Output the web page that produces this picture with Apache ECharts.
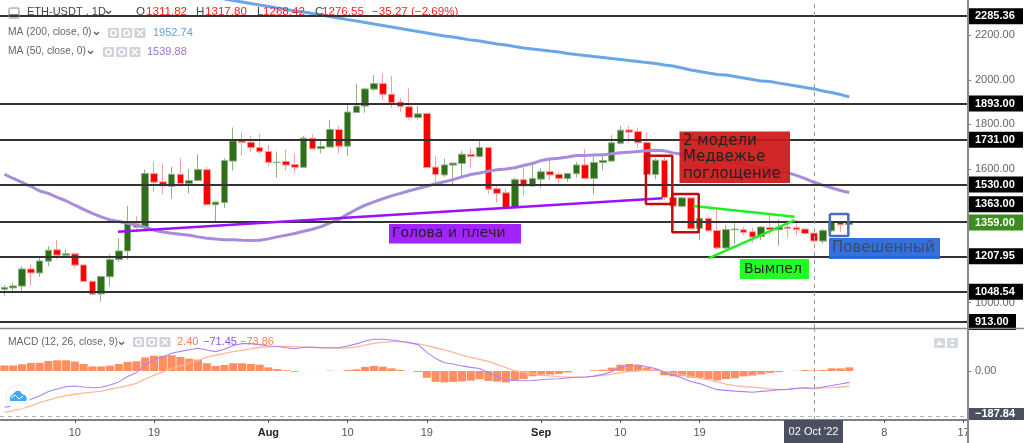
<!DOCTYPE html>
<html><head><meta charset="utf-8">
<style>html,body{margin:0;padding:0;background:#fff}#c{width:1024px;height:443px}</style>
<script src="https://cdn.jsdelivr.net/npm/echarts@6/dist/echarts.min.js"></script>
</head><body><div id="c"></div>
<script>
// [open, close, low, high] per day, 2 Jul 2022 onward
const ohlc = [
[1060,1068,1030,1078],[1066,1075,1041,1090],[1074,1151,1048,1163],[1151,1133,1078,1175],[1133,1187,1116,1202],
[1186,1235,1163,1253],[1237,1213,1195,1280],[1213,1219,1205,1238],[1219,1168,1153,1221],[1169,1095,1093,1171],
[1096,1038,1036,1098],[1039,1117,1006,1120],[1116,1193,1074,1216],[1193,1232,1183,1289],[1232,1358,1193,1433],
[1355,1337,1317,1388],[1337,1579,1328,1597],[1579,1540,1494,1633],[1542,1524,1487,1624],[1522,1576,1467,1609],
[1576,1534,1519,1647],[1534,1548,1489,1599],[1548,1597,1546,1665],[1597,1439,1437,1609],[1439,1451,1362,1452],
[1449,1638,1424,1647],[1635,1726,1592,1786],[1726,1719,1659,1767],[1720,1695,1677,1747],[1696,1677,1667,1756],
[1678,1629,1610,1707],[1628,1630,1560,1678],[1634,1617,1592,1687],[1620,1607,1583,1667],[1607,1738,1605,1747],
[1738,1690,1687,1755],[1691,1701,1670,1732],[1698,1777,1698,1821],[1777,1702,1670,1792],[1702,1855,1659,1886],
[1853,1882,1853,1983],[1882,1959,1852,1965],[1958,1983,1950,2021],[1983,1935,1908,2028],[1935,1897,1874,2016],
[1900,1879,1856,1917],[1879,1831,1822,1961],[1831,1847,1823,1882],[1849,1606,1605,1851],[1608,1575,1527,1657],
[1573,1618,1564,1647],[1617,1626,1531,1628],[1624,1666,1564,1680],[1665,1656,1606,1696],[1656,1696,1651,1726],
[1696,1509,1487,1698],[1511,1490,1448,1522],[1493,1425,1425,1512],[1425,1552,1425,1561],[1552,1523,1478,1606],
[1523,1557,1520,1617],[1554,1587,1515,1602],[1588,1573,1549,1651],[1576,1557,1534,1584],[1557,1579,1542,1582],
[1578,1618,1561,1632],[1618,1557,1554,1690],[1557,1629,1487,1654],[1629,1638,1594,1662],[1635,1717,1632,1751],
[1715,1774,1710,1792],[1775,1765,1721,1792],[1768,1717,1695,1786],[1718,1575,1572,1763],[1575,1639,1554,1647],
[1639,1472,1460,1654],[1472,1433,1430,1474],[1432,1470,1427,1475],[1470,1331,1328,1470],[1333,1378,1280,1385],
[1378,1322,1318,1385],[1324,1245,1239,1418],[1245,1328,1240,1348],[1327,1330,1262,1361],[1327,1315,1303,1340],
[1318,1294,1268,1337],[1297,1339,1280,1343],[1337,1327,1303,1400],[1327,1339,1255,1373],[1339,1333,1289,1370],
[1336,1327,1303,1373],[1330,1310,1306,1337],[1311.82,1276.55,1268.42,1317.8],[1276,1324,1265,1331],[1322,1363,1319,1366],
[1361,1349,1318,1361],[1351,1361,1346,1362]
];
const ma200 = [null,null,null,null,null,null,null,null,null,null,null,null,null,null,null,null,null,null,null,null,null,null,null,null,null,
2362,2356,2349,2342,2336,2329,2322,2315,2309,2304,2297,2291,2284,2277,2270,2264,2257,2250,2244,2237,2230,2223,2217,2210,2203,2196,2192,2185,2178,2174,2167,2161,2156,2149,2143,2138,2134,2129,2125,2118,2113,2109,2104,2100,2095,2091,2086,2082,2077,2073,2066,2062,2053,2044,2037,2030,2024,2021,2015,2008,2001,1994,1992,1985,1979,1972,1965,1959,1950,1943,1934,1923];
const ma50 = [1576,1557,1540,1522,1501,1490,1472,1457,1437,1418,1400,1385,1371,1364,1356,1347,1338,1325,1317,1311,1307,1302,1295,1289,1285,1282,1282,1280,1279,1280,1286,1295,1302,1310,1320,1329,1341,1358,1373,
1397,1418,1437,1452,1466,1479,1490,1502,1512,1522,1534,1542,1552,1564,1575,1582,1590,1596,1600,1605,1615,1624,1638,1644,1648,1653,1660,1660,1662,1663,1668,1672,1675,1678,1681,1684,1681,1672,
1666,1660,1654,1648,1642,1635,1627,1620,1613,1605,1598,1590,1583,1571,1556,1540,1527,1515,1503,1494];
const macdHist = [23,23,28,33,34,41,44,44,39,29,19,19,22,29,37,40,56,63,63,65,58,51,47,32,21,25,32,32,29,26,15,8,3,-3,-0.3,0.3,-0.2,1.4,0.2,4,7,17,21,18,11,4,-0.5,-4,-28,-45,-47,-45,-43,-40,-34,-41,-44,-47,-40,-33,-22,-19,-15,-12,-6,-0.3,0.3,3,5.5,14,26,29,23,14,5.5,-18,-22,-22,-28,-28,-33,-39,-33,-30,-22,-19,-14,-8,-4,-0.3,1,4,2.4,4,11,11,15];
const macdLine = [-150,-144,-134,-117,-103,-85,-74,-65,-62,-66,-69,-67,-58,-45,-23,-7,25,45,59,73,81,88,94,87,80,90,105,113,113,109,103,101,96,92,98,98,96,96,96,103,112,124,131,131,128,123,117,109,77,52,34,29,21,15,10,-7,-23,-37,-39,-40,-39,-36,-33,-32,-29,-26,-25,-21,-14,-3,15,23,25,17,10,-6,-16,-29,-43,-52,-65,-77,-80,-83,-85,-88,-84,-81,-77,-76,-71.5,-69,-71.45,-66,-60,-54,-47];
const macdSignal = [-172,-164,-155,-144,-131,-120,-110,-102,-96,-91,-87,-83,-76,-69,-60,-51,-33,-18,-4,10,21,32,43,57,65,73,80,85,91,98,100,102,102,100,98,98,96,95,95,96,100,107,114,118,121,121,116,112,105,96,87,77,66,56,48,40,26,14,1,-5,-12,-16,-20,-23,-25,-25,-25,-22,-18,-14,-7,-3,0,4,6,-3,-10,-16,-23,-30,-37,-45,-54,-60,-65,-67,-70,-74,-77,-76,-73,-70,-73.86,-70,-69,-66,-63];
const levels = [2285.36,1893,1731,1530,1363,1207.95,1048.54,913];
const lastClose = 1359;
const crossIndex = 92, crossValue = -187.84;
const slotCount = 110;
const categories = Array.from({length:slotCount},(_,i)=>i);
const tickLabels = {8:'10',17:'19',30:'Aug',39:'10',48:'19',61:'Sep',70:'10',79:'19',100:'8',109:'17'};
const priceTicks = [2200,2000,1800,1600,1000];
const neckline = [[12.9,1318],[74.8,1468]];
const pennantTop = [[78.3,1434],[89.8,1385]];
const pennantBottom = [[80,1198],[89.8,1370]];
const box1 = [[72.9,1659],[75.9,1659],[75.9,1443],[72.9,1443],[72.9,1659]];
const box2 = [[75.9,1487],[78.9,1487],[78.9,1316],[75.9,1316],[75.9,1487]];
const box3 = [[93.8,1398],[95.9,1398],[95.9,1299],[93.8,1299],[93.8,1398]];

const FONT='"Liberation Sans",Arial,sans-serif';
function txt(x,y,s,fill,size,extra){return Object.assign({type:'text',z:101,x:x,y:y,style:{text:s,fill:fill,font:(size||11)+'px '+FONT,textVerticalAlign:'middle'}},extra||{});}
function iconSet(x,y){
  const out=[];
  for(let i=0;i<3;i++){
    const cx=x+i*13.2;
    out.push({type:'rect',z:101,shape:{x:cx,y:y,width:11,height:10,r:1},style:{fill:'#cfd2d8'}});
    if(i<2) out.push({type:'ring',z:102,shape:{cx:cx+5.5,cy:y+5,r:3.5,r0:2},style:{fill:'#fff'}});
    else {
      out.push({type:'line',z:102,shape:{x1:cx+2.5,y1:y+2,x2:cx+8.5,y2:y+8},style:{stroke:'#fff',lineWidth:1.5}});
      out.push({type:'line',z:102,shape:{x1:cx+8.5,y1:y+2,x2:cx+2.5,y2:y+8},style:{stroke:'#fff',lineWidth:1.5}});
    }
  }
  return out;
}
function caret(x,y,c){return {type:'polyline',z:101,shape:{points:[[x,y],[x+2.5,y+2.5],[x+5,y]]},style:{stroke:c||'#555',fill:null,lineWidth:1.2}};}
function note(x,y,w,h,fill,lines,size,tcolor,tx){
  const els=[{type:'rect',z:90,shape:{x:x,y:y,width:w,height:h},style:{fill:fill}}];
  lines.forEach((l,i)=>els.push({type:'text',z:91,x:tx,y:y+h/2+(i-(lines.length-1)/2)*16.5,style:{text:l,fill:tcolor,font:size+'px "DejaVu Sans"',textVerticalAlign:'middle'}}));
  return els;
}
const graphics=[].concat(
  [{type:'rect',z:101,shape:{x:9,y:8,width:10,height:10,r:1},style:{fill:'none',stroke:'#888',lineWidth:1}},
   {type:'line',z:101,shape:{x1:9,y1:14.5,x2:19,y2:14.5},style:{stroke:'#888',lineWidth:1}},
   txt(27,12,'ETH-USDT , 1D','#444',11), caret(106,11,'#444'),
   txt(136,12,'O','#444',11.6), txt(146,12,'1311.82','#f22',11.6),
   txt(196,12,'H','#444',11.6), txt(205,12,'1317.80','#f22',11.6),
   txt(257,12,'L','#444',11.6), txt(263,12,'1268.42','#f22',11.6),
   txt(315,12,'C','#444',11.6), txt(322,12,'1276.55','#f22',11.6),
   txt(372,12,'\u221235.27 (\u22122.69%)','#f22',11.6),
   txt(8,32,'MA (200, close, 0)','#666',10.3), caret(94,32),
   txt(153,33,'1952.74','#5c9fe6',11),
   txt(8,51,'MA (50, close, 0)','#666',10.3), caret(88,51),
   txt(147,52,'1539.88','#9a72d8',11),
   txt(8,342,'MACD (12, 26, close, 9)','#666',10.3), caret(119,342),
   txt(177,342,'2.40','#ff7f50',11), txt(203,342,'\u221271.45','#8a55f0',11), txt(240,342,'\u221273.86','#ff7f50',11)],
  iconSet(108,28), iconSet(103,47), iconSet(133,337),
  note(679.5,131.5,110.5,51.5,'rgba(204,24,24,0.93)',['2 модели','Медвежье','поглощение'],15,'#222',683),
  note(389,224,132,19.5,'rgba(156,24,255,0.95)',['Голова и плечи'],14,'#222',392),
  note(740,259,69,20,'#22ff22',['Вымпел'],14,'#222',744),
  note(829,238,111,21,'rgba(40,105,220,0.95)',['Повешенный'],15,'#3b4a68',832),
  [{type:'circle',z:101,shape:{cx:18,cy:397,r:12},style:{fill:'#fff',stroke:'#eee',lineWidth:1}},
   {type:'polygon',z:102,shape:{points:[[10,401],[10,397],[13,394],[16,391],[20,391],[22,394],[25,395],[27,398],[26,401]]},style:{fill:'#3fa9f5'}},
   {type:'polyline',z:103,shape:{points:[[11,398],[15,395],[19,399],[23,396]]},style:{stroke:'#fff',fill:null,lineWidth:1}},
   {type:'line',z:20,shape:{x1:0,y1:328.5,x2:1024,y2:328.5},style:{stroke:'#8a8a8a',lineWidth:1.5}},
   {type:'rect',z:95,shape:{x:969,y:421,width:55,height:22},style:{fill:'#fff'}},
   {type:'line',z:96,shape:{x1:968,y1:0,x2:968,y2:443},style:{stroke:'#8a8a8a',lineWidth:2}},
   {type:'rect',z:97,shape:{x:784,y:420,width:59,height:23},style:{fill:'#4a5060'}},
   {type:'text',z:98,x:813.5,y:431.5,style:{text:"02 Oct '22",fill:'#fff',font:'11px '+FONT,textAlign:'center',textVerticalAlign:'middle'}},
   {type:'rect',z:97,shape:{x:934,y:338,width:11,height:10,r:1},style:{fill:'#d5d8de'}},
   {type:'rect',z:97,shape:{x:947,y:338,width:11,height:10,r:1},style:{fill:'#d5d8de'}},
   {type:'polygon',z:98,shape:{points:[[936,345],[939.5,341],[943,345]]},style:{fill:'#fff'}},
   {type:'polygon',z:98,shape:{points:[[950,342],[952.5,339.5],[955,342]]},style:{fill:'#fff'}},
   {type:'polygon',z:98,shape:{points:[[950,344],[952.5,346.5],[955,344]]},style:{fill:'#fff'}}]
);
const tagLabel=(bg,w,offset)=>({show:true,position:'end',distance:0,formatter:p=>p.value.toFixed(2),backgroundColor:bg,color:'#fff',fontFamily:FONT,fontSize:11,fontWeight:'bold',padding:[3,0,2,7],width:w,offset:offset||[0,0],align:'left',verticalAlign:'middle'});
const levelItems=levels.map(v=>({yAxis:v,label:tagLabel('#000',v===913?41:48,v===1363?[0,-17.5]:[0,0])}));
const lastItem={yAxis:lastClose,lineStyle:{color:'rgba(0,0,0,0)',width:1},label:tagLabel('#3d8c21',48)};
function overlay(name,data,color,width,z){return {name:name,type:'line',xAxisIndex:2,yAxisIndex:0,data:data,showSymbol:false,silent:true,lineStyle:{color:color,width:width},z:z||8,animation:false};}
const crossLine={silent:true,symbol:'none',animation:false,label:{show:false},lineStyle:{color:'#9a9a9a',type:[4,4],width:1},data:[{xAxis:crossIndex}]};
const option={
  animation:false,
  graphic:{elements:graphics},
  grid:[{left:0,top:0,width:968,height:328},{left:0,top:329,width:968,height:91}],
  xAxis:[
    {type:'category',gridIndex:0,data:categories,axisLine:{show:false,onZero:false},axisTick:{show:false},axisLabel:{show:false},splitLine:{show:false}},
    {type:'category',gridIndex:1,data:categories,axisLine:{show:true,onZero:false,lineStyle:{color:'#555',width:1.5}},
      axisTick:{show:true,length:3,alignWithLabel:true,interval:i=>tickLabels[i]!==undefined,lineStyle:{color:'#555'}},
      axisLabel:{show:true,interval:i=>tickLabels[i]!==undefined,margin:7,color:'#555',fontFamily:FONT,fontSize:11,hideOverlap:false,
        formatter:v=>{const t=tickLabels[v];return (t==='Aug'||t==='Sep')?'{b|'+t+'}':t;},rich:{b:{fontWeight:'bold',color:'#222',fontSize:11,fontFamily:FONT}}},splitLine:{show:false}},
    {type:'value',gridIndex:0,min:-0.5,max:109.5,show:false,splitLine:{show:false}}
  ],
  yAxis:[
    {type:'value',gridIndex:0,position:'right',min:886,max:2358,splitLine:{show:false},
      axisLine:{show:true,onZero:false,lineStyle:{color:'#8a8a8a',width:2}},
      axisTick:{show:true,length:3,customValues:priceTicks,lineStyle:{color:'#777'}},
      axisLabel:{show:true,customValues:priceTicks,margin:7,color:'#666',fontFamily:FONT,fontSize:11,formatter:v=>v.toFixed(2)}},
    {type:'value',gridIndex:1,position:'right',min:-202.3,max:173.4,splitLine:{show:false},
      axisLine:{show:true,onZero:false,lineStyle:{color:'#8a8a8a',width:2}},
      axisTick:{show:true,length:3,customValues:[0],lineStyle:{color:'#777'}},
      axisLabel:{show:true,customValues:[0],margin:7,color:'#666',fontFamily:FONT,fontSize:11,formatter:v=>v.toFixed(2)}}
  ],
  series:[
    {name:'levels',type:'line',xAxisIndex:0,yAxisIndex:0,data:[],z:1,silent:true,
      markLine:{silent:true,symbol:'none',animation:false,lineStyle:{color:'#333',width:2,type:'solid'},data:levelItems.concat([lastItem])}},
    {name:'ETH-USDT',type:'candlestick',xAxisIndex:0,yAxisIndex:0,data:ohlc,barWidth:7,z:3,silent:true,
      itemStyle:{color:'#2f6f1a',color0:'#ff0000',borderColor:'#8fb184',borderColor0:'#f7a0a0',borderWidth:1},
      markLine:crossLine},
    {name:'MA 200',type:'line',xAxisIndex:0,yAxisIndex:0,data:ma200,showSymbol:false,silent:true,lineStyle:{color:'#6aa6e8',width:3},z:4},
    {name:'MA 50',type:'line',xAxisIndex:0,yAxisIndex:0,data:ma50,showSymbol:false,silent:true,lineStyle:{color:'#a78cdc',width:3},z:4},
    overlay('neck',neckline,'#9a10ff',2.5),
    overlay('penTop',pennantTop,'#22ee22',2.5),
    overlay('penBottom',pennantBottom,'#22ee22',2.5),
    overlay('box1',box1,'#c00d0d',2.5),
    overlay('box2',box2,'#c00d0d',2.5),
    overlay('box3',box3,'#4a6fb5',2.5),
    {name:'hist',type:'bar',xAxisIndex:1,yAxisIndex:1,data:macdHist,barWidth:'92%',silent:true,itemStyle:{color:'#ff8f60'},z:2,
      markLine:{silent:true,symbol:'none',animation:false,label:{show:true,position:'end',distance:0,offset:[0,-2.5],formatter:()=>crossValue.toFixed(2).replace('-','\u2212'),backgroundColor:'#4a5060',color:'#fff',fontFamily:FONT,fontSize:11,fontWeight:'bold',padding:[1,8,1,7],width:49,height:10,align:'left',verticalAlign:'middle'},
        lineStyle:{color:'#a9b4cc',type:[4,4],width:1},data:[{yAxis:crossValue}]}},
    {name:'signal',type:'line',xAxisIndex:1,yAxisIndex:1,data:macdSignal,showSymbol:false,silent:true,lineStyle:{color:'#ffb89c',width:1.3},z:3},
    {name:'macd',type:'line',xAxisIndex:1,yAxisIndex:1,data:macdLine,showSymbol:false,silent:true,lineStyle:{color:'#a883ff',width:1.1},z:3,markLine:crossLine}
  ]
};
const chart=echarts.init(document.getElementById('c'),null,{renderer:'canvas'});
chart.setOption(option);
</script></body></html>
